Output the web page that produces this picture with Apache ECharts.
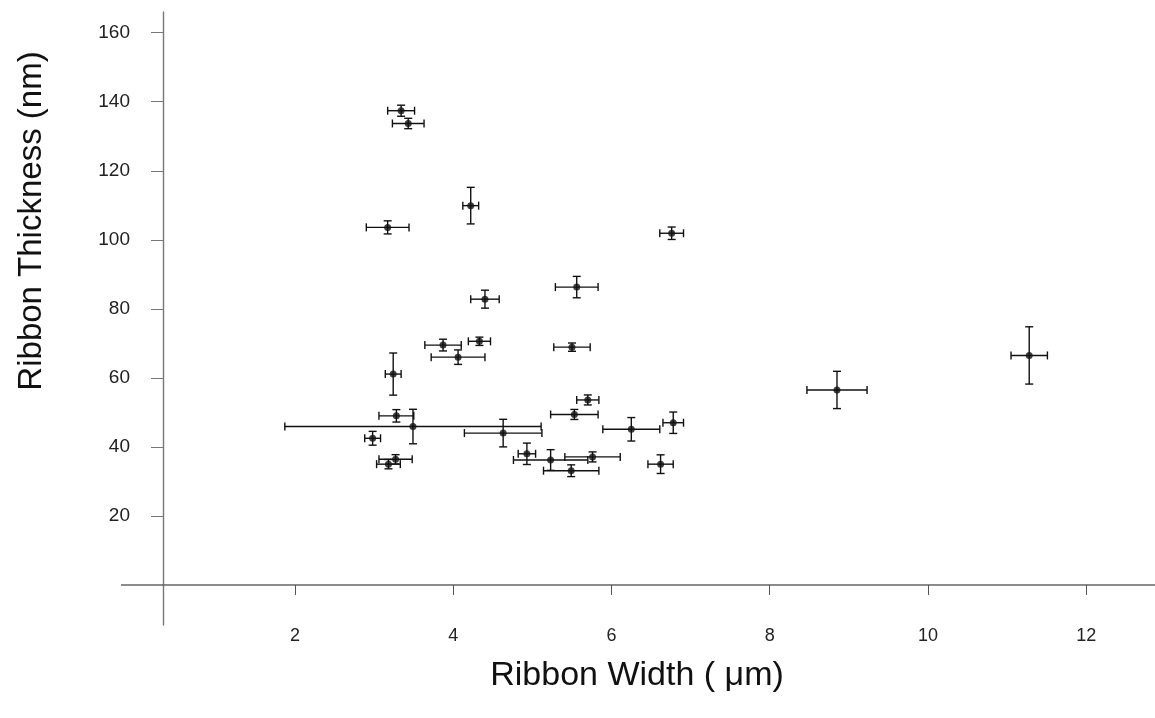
<!DOCTYPE html>
<html>
<head>
<meta charset="utf-8">
<title>Ribbon Thickness vs Width</title>
<script src="https://cdn.jsdelivr.net/npm/echarts@6/dist/echarts.min.js"></script>
<style>
  html, body { margin: 0; padding: 0; background: #fff; }
  #chart { width: 1155px; height: 718px; }
</style>
</head>
<body>
<div id="chart"></div>
<script>
// values
const ribbonWidth = [3.34, 3.43, 3.17, 3.24, 3.28, 3.49, 2.98, 3.27, 3.18, 4.63, 4.93, 5.23, 5.49, 5.76, 5.70,
  5.53, 4.22, 6.76, 5.56, 4.40, 3.87, 4.33, 4.06, 5.50, 6.25, 6.78, 6.62, 8.85, 11.28];
const ribbonThickness = [137.4, 133.7, 103.6, 61.1, 49.0, 45.9, 42.5, 36.4, 35.0, 44.0, 38.0, 36.2, 33.1, 37.1, 53.6,
  49.4, 109.9, 101.9, 86.3, 82.8, 69.5, 70.6, 66.0, 68.9, 45.1, 47.0, 35.0, 56.5, 66.5];
const widthErr = [0.17, 0.2, 0.27, 0.1, 0.22, 1.62, 0.1, 0.21, 0.15, 0.49, 0.11, 0.47, 0.35, 0.35, 0.14,
  0.3, 0.1, 0.15, 0.27, 0.18, 0.23, 0.14, 0.34, 0.23, 0.36, 0.13, 0.16, 0.38, 0.23];
const thicknessErr = [1.6, 1.5, 1.9, 6.1, 1.8, 5.0, 2.0, 1.35, 1.35, 4.0, 3.1, 3.0, 1.7, 1.45, 1.45,
  1.45, 5.3, 1.8, 3.1, 2.6, 1.7, 1.2, 2.1, 1.2, 3.4, 3.1, 2.7, 5.4, 8.3];
const xTicks = [2, 4, 6, 8, 10, 12];
const yTicks = [20, 40, 60, 80, 100, 120, 140, 160];

const FONT = 'Liberation Sans, Arial, sans-serif';
const INK = '#111';

const points = ribbonWidth.map((w, i) => [w, ribbonThickness[i]]);
const bars = ribbonWidth.map((w, i) => [w, ribbonThickness[i], widthErr[i], thicknessErr[i]]);

function renderErrorBar(params, api) {
  const x = api.value(0);
  const y = api.value(1);
  const xe = api.value(2);
  const ye = api.value(3);
  const left = api.coord([x - xe, y]);
  const right = api.coord([x + xe, y]);
  const top = api.coord([x, y + ye]);
  const bottom = api.coord([x, y - ye]);
  const cap = 4;
  const style = { stroke: INK, lineWidth: 1.4 };
  const line = (x1, y1, x2, y2) => ({ type: 'line', shape: { x1, y1, x2, y2 }, style });
  return {
    type: 'group',
    children: [
      line(left[0], left[1], right[0], right[1]),
      line(left[0], left[1] - cap, left[0], left[1] + cap),
      line(right[0], right[1] - cap, right[0], right[1] + cap),
      line(top[0], top[1], bottom[0], bottom[1]),
      line(top[0] - cap, top[1], top[0] + cap, top[1]),
      line(bottom[0] - cap, bottom[1], bottom[0] + cap, bottom[1]),
    ],
  };
}

const chart = echarts.init(document.getElementById('chart'));
const xMin = 0.33;

chart.setOption({
  backgroundColor: '#fff',
  animation: false,
  grid: { left: 163, right: 0, top: 12, bottom: 93 },
  xAxis: {
    type: 'value',
    min: xMin,
    max: 12.87,
    axisLine: { onZero: true, lineStyle: { color: '#666', width: 1.6 } },
    axisTick: { show: true, length: 10, customValues: xTicks, lineStyle: { color: '#555', width: 1 } },
    axisLabel: { customValues: xTicks, margin: 2, fontSize: 18, color: '#222', fontFamily: FONT },
    splitLine: { show: false },
  },
  yAxis: {
    type: 'value',
    min: -11.6,
    max: 166,
    axisLine: { show: true, lineStyle: { color: '#777', width: 1.4 } },
    axisTick: { show: true, length: 12, customValues: yTicks, lineStyle: { color: '#777', width: 1 } },
    axisLabel: { customValues: yTicks, margin: 33, fontSize: 19, color: '#222', fontFamily: FONT },
    splitLine: { show: false },
  },
  series: [
    {
      type: 'custom',
      renderItem: renderErrorBar,
      data: bars,
      z: 2,
    },
    {
      type: 'scatter',
      data: points,
      symbol: 'circle',
      symbolSize: 7,
      itemStyle: { color: INK },
      z: 3,
    },
  ],
});

// axis titles and the stub of the x axis left of the y axis
const origin = chart.convertToPixel({ gridIndex: 0 }, [xMin, 0]);
chart.setOption({
  graphic: [
    {
      type: 'line',
      shape: { x1: origin[0] - 42, y1: origin[1], x2: origin[0], y2: origin[1] },
      style: { stroke: '#666', lineWidth: 1.6 },
    },
    {
      type: 'text',
      x: 32,
      y: 221,
      rotation: Math.PI / 2,
      style: {
        text: 'Ribbon Thickness (nm)',
        font: '33px ' + FONT,
        fill: '#111',
        align: 'center',
        verticalAlign: 'middle',
      },
    },
    {
      type: 'text',
      x: 637,
      y: 676,
      style: {
        text: 'Ribbon Width ( μm)',
        font: '34px ' + FONT,
        fill: '#111',
        align: 'center',
        verticalAlign: 'middle',
      },
    },
  ],
});
</script>
</body>
</html>
